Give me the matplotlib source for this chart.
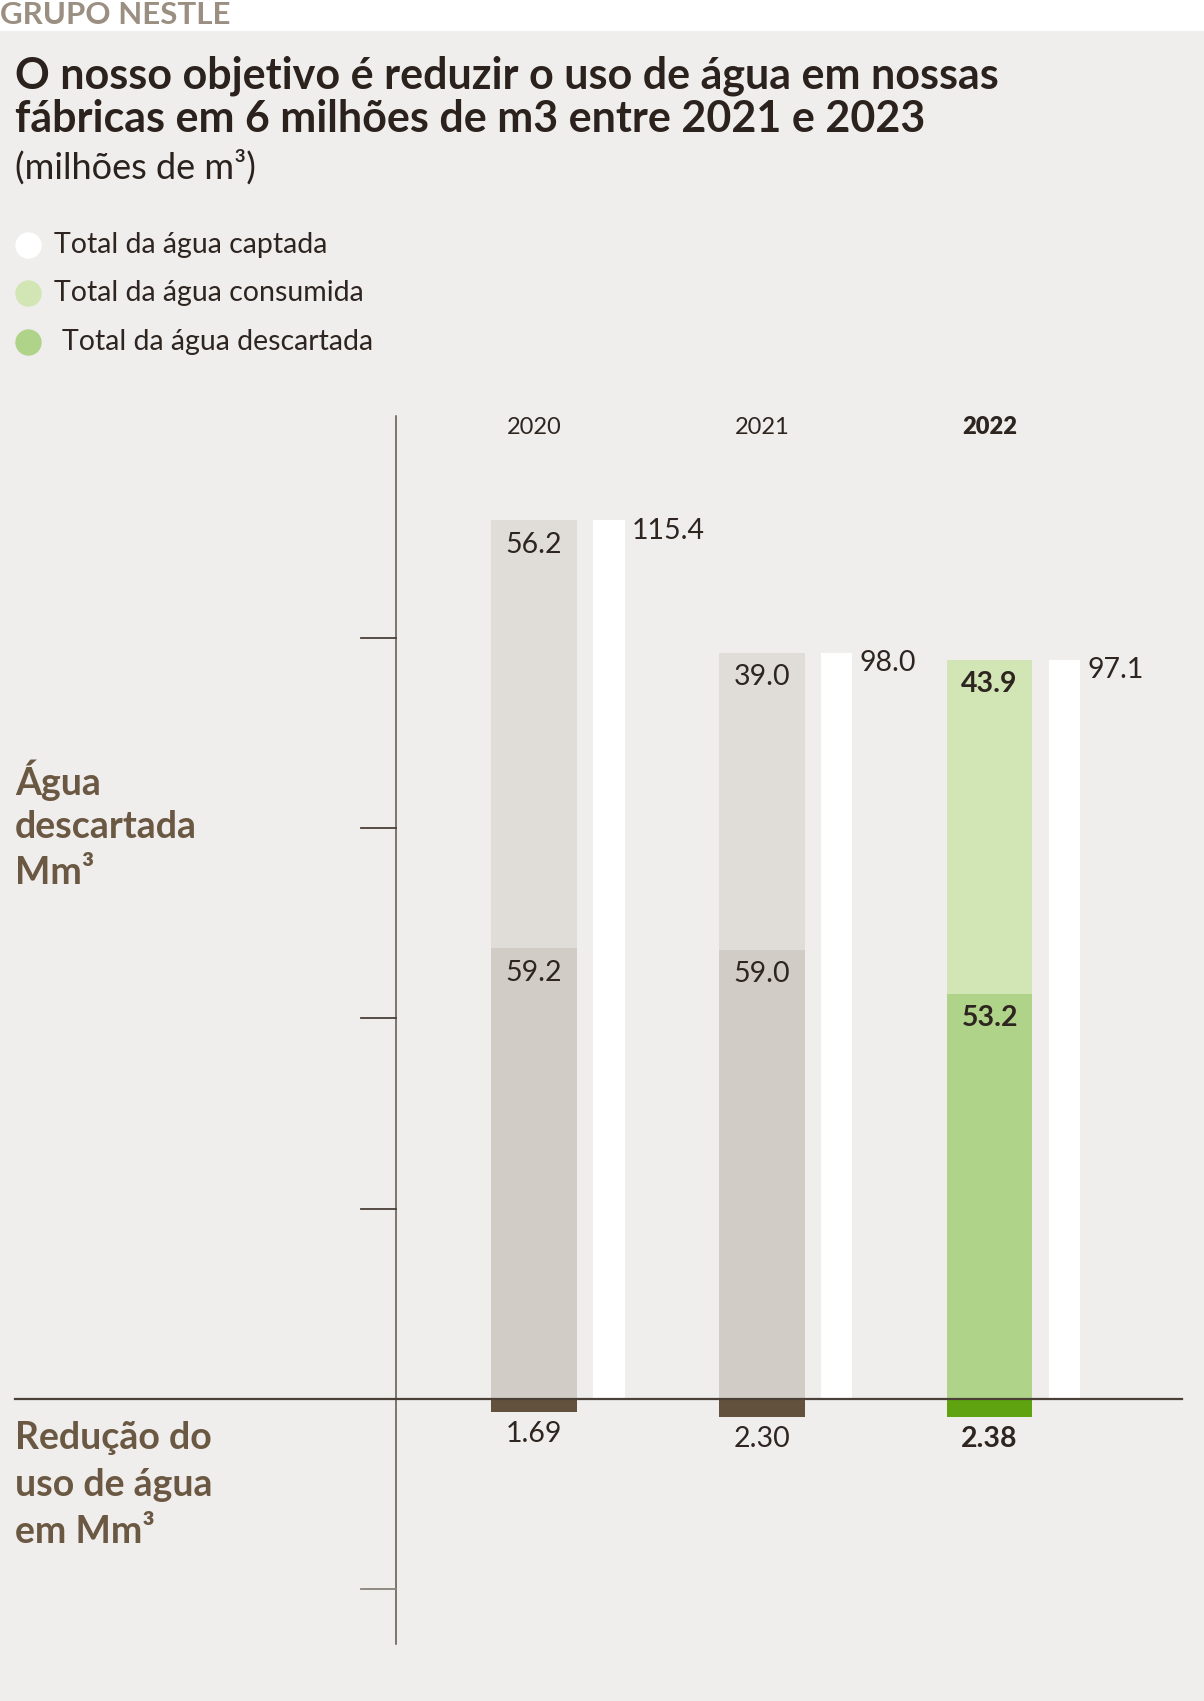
import numpy as np
import matplotlib
matplotlib.use('Agg')
import matplotlib.pyplot as plt
from matplotlib.patches import Rectangle

# Dados (milhões de m3)
anos = ['2020', '2021', '2022']
agua_consumida = [56.2, 39.0, 43.9]     # segmento de cima
agua_descartada = [59.2, 59.0, 53.2]    # segmento de baixo
agua_captada = [115.4, 98.0, 97.1]      # barra branca
reducao = [1.69, 2.30, 2.38]            # abaixo da linha zero
destaque = [False, False, True]         # 2022 em negrito / verde

legenda = ['Total da água captada', 'Total da água consumida', 'Total da água descartada']

# Cores
FUNDO = '#efeeec'
CINZA_CLARO = '#e0ddd8'
CINZA = '#d1ccc6'
VERDE_CLARO = '#d1e5b5'
VERDE = '#b0d38a'
MARROM = '#62513c'
VERDE_ESCURO = '#5fa410'
TEXTO = '#2e2520'
TITULO_COR = '#6b5843'

W, H = 1204, 1701
plt.rcParams['font.family'] = ['Lato', 'DejaVu Sans']

fig = plt.figure(figsize=(W / 100, H / 100), dpi=100, facecolor=FUNDO)
fig.add_artist(Rectangle((0, 1 - 31 / H), 1, 31 / H, transform=fig.transFigure,
                         facecolor='white', edgecolor='none'))


def fx(px):
    return px / W


def fy(py):
    return 1 - py / H


# Eixo principal: x = índice do grupo, y = valor
ax = fig.add_axes([0, 0, 1, 1])
ax.set_facecolor('none')
passo = 227.8           # px entre grupos
x0 = 534                # px do centro da primeira barra
esc = 7.614             # px por unidade
y0 = H - 1399           # px (de baixo) da linha zero
ax.set_xlim(-x0 / passo, (W - x0) / passo)
ax.set_ylim(-y0 / esc, (H - y0) / esc)
ax.axis('off')

x = np.arange(len(anos))
larg = 0.376
larg_b = 0.138
desl_b = 0.329

cor_cima = [VERDE_CLARO if d else CINZA_CLARO for d in destaque]
cor_baixo = [VERDE if d else CINZA for d in destaque]
cor_red = [VERDE_ESCURO if d else MARROM for d in destaque]

ax.bar(x, agua_descartada, width=larg, color=cor_baixo, zorder=2)
ax.bar(x, agua_consumida, width=larg, bottom=agua_descartada, color=cor_cima, zorder=2)
ax.bar(x + desl_b, agua_captada, width=larg_b, color='white', zorder=2)
ax.bar(x, [-r for r in reducao], width=larg, color=cor_red, zorder=2)

FS_VAL = 20.5
for i in range(len(anos)):
    peso = 'bold' if destaque[i] else 'normal'
    topo = agua_descartada[i] + agua_consumida[i]
    ax.annotate(f'{agua_consumida[i]:.1f}', (x[i], topo), xytext=(0, -17.5),
                textcoords='offset points', ha='center', va='center',
                fontsize=FS_VAL, color=TEXTO, fontweight=peso, zorder=3)
    ax.annotate(f'{agua_descartada[i]:.1f}', (x[i], agua_descartada[i]), xytext=(0, -17.5),
                textcoords='offset points', ha='center', va='center',
                fontsize=FS_VAL, color=TEXTO, fontweight=peso, zorder=3)
    ax.annotate(f'{agua_captada[i]:.1f}', (x[i] + desl_b + larg_b / 2, agua_captada[i]),
                xytext=(5, -7.5), textcoords='offset points', ha='left', va='center',
                fontsize=FS_VAL, color=TEXTO, zorder=3)
    ax.annotate(f'{reducao[i]:.2f}', (x[i], -reducao[i]), xytext=(0, -16),
                textcoords='offset points', ha='center', va='center',
                fontsize=FS_VAL, color=TEXTO, fontweight=peso, zorder=3)
    ax.text(x[i], (1399 - 427) / esc, anos[i], ha='center', va='center',
            fontsize=17, color=TEXTO, fontweight='heavy' if destaque[i] else 'normal')

# Linhas dos eixos e marcas
xe = (396 - x0) / passo
ax.plot([xe, xe], [(1399 - 416) / esc, (1399 - 1644) / esc], color='#5c534b', lw=1.1, zorder=1)
ax.plot([(15 - x0) / passo, (1182 - x0) / passo], [0, 0], color='#4a4038', lw=1.6, zorder=4)
for t in [25, 50, 75, 100, -25]:
    ax.plot([(361 - x0) / passo, xe], [t, t], color='#4a4038' if t > 0 else '#8a827a',
            lw=1.3, zorder=1)

# Títulos
fig.text(fx(0), fy(24), 'GRUPO NESTLÉ', fontsize=22.5, fontweight='bold', color='#9b8f82',
         va='baseline', ha='left')
fig.text(fx(15), fy(88), 'O nosso objetivo é reduzir o uso de água em nossas',
         fontsize=31, fontweight='bold', color='#2b221d', va='baseline')
fig.text(fx(15), fy(132), 'fábricas em 6 milhões de m3 entre 2021 e 2023',
         fontsize=31, fontweight='bold', color='#2b221d', va='baseline')
fig.text(fx(15), fy(179), '(milhões de m³)', fontsize=26, color='#2b221d', va='baseline')

# Legenda
cores_leg = ['white', VERDE_CLARO, VERDE]
for k, (rot, c) in enumerate(zip(legenda, cores_leg)):
    yy = [245, 293, 342][k]
    ax.plot([fx(28)], [fy(yy)], marker='o', markersize=19, color=c, markeredgewidth=0,
            transform=fig.transFigure, clip_on=False)
    fig.text(fx(54 if k < 2 else 62), fy(yy), rot, fontsize=20.5, color=TEXTO, va='center')

# Rótulos à esquerda
for lin, py in zip(['Água', 'descartada', 'Mm³'], [780, 827, 873]):
    fig.text(fx(15), fy(py), lin, fontsize=27, fontweight='bold', color=TITULO_COR, va='center')
for lin, py in zip(['Redução do', 'uso de água', 'em Mm³'], [1438, 1485, 1532]):
    fig.text(fx(15), fy(py), lin, fontsize=27, fontweight='bold', color=TITULO_COR, va='center')

fig.savefig('out.png', dpi=100, facecolor=FUNDO)
